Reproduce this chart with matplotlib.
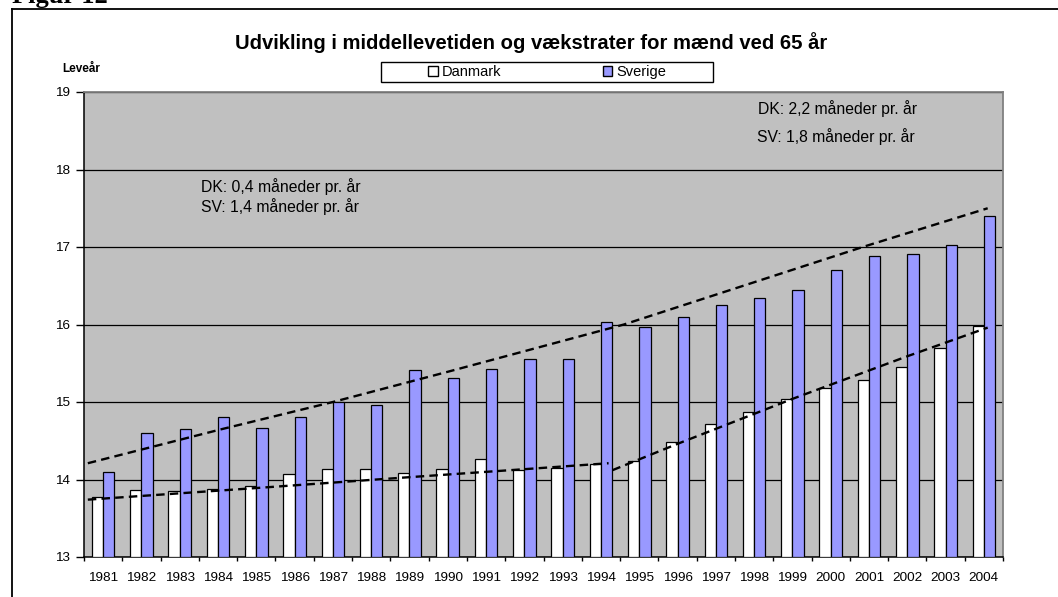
import numpy as np
from matplotlib import pyplot as plt
from matplotlib.patches import Rectangle, Patch

plt.rcParams['font.family'] = ['Liberation Sans', 'DejaVu Sans']

# data
years = list(range(1981, 2005))
danmark = [13.78, 13.86, 13.85, 13.88, 13.92, 14.07, 14.13, 14.14, 14.08, 14.13, 14.26, 14.12,
           14.15, 14.20, 14.24, 14.49, 14.71, 14.87, 15.04, 15.18, 15.28, 15.45, 15.70, 15.98]
sverige = [14.10, 14.60, 14.65, 14.81, 14.66, 14.80, 15.00, 14.96, 15.41, 15.31, 15.43, 15.56,
           15.56, 16.03, 15.97, 16.10, 16.25, 16.34, 16.45, 16.70, 16.89, 16.91, 17.02, 17.40]

# trend lines (year, value)
sv_trend_years = [1980.6, 1984.1, 1987.0, 1990.0, 1994.6, 2000.9, 2004.1]
sv_trend_vals = [14.21, 14.65, 15.00, 15.39, 16.00, 17.01, 17.50]
dk_trend1_years = [1980.6, 1985.0, 1989.0, 1992.2, 1994.2]
dk_trend1_vals = [13.74, 13.89, 14.03, 14.14, 14.21]
dk_trend2_years = [1994.3, 1996.0, 1999.0, 2002.0, 2004.1]
dk_trend2_vals = [14.12, 14.46, 15.04, 15.59, 15.96]

W, H = 1058, 597
fig = plt.figure(figsize=(W / 100, H / 100), dpi=100)
fig.patch.set_facecolor('white')

# outer frame (right and bottom edges fall outside the picture)
fig.add_artist(plt.Line2D([11.5 / W, 11.5 / W], [0, 1 - 8.5 / H], color='black', lw=1.3,
                          transform=fig.transFigure))
fig.add_artist(plt.Line2D([11.5 / W, 1], [1 - 8.5 / H, 1 - 8.5 / H], color='black', lw=1.3,
                          transform=fig.transFigure))
fig.text(12 / W, 1 - 3.5 / H, 'Figur 12', family='Liberation Serif', fontweight='bold',
         fontsize=19, va='baseline', ha='left')

left, right, top, bottom = 84, 1003, 92, 557
ax = fig.add_axes([left / W, 1 - bottom / H, (right - left) / W, (bottom - top) / H])
ax.set_facecolor('#C0C0C0')

x = np.arange(len(years))
bw = 0.295
ax.bar(x - bw / 2, np.array(danmark) - 13, bw, bottom=13, color='white', edgecolor='black',
       linewidth=0.9, zorder=3)
ax.bar(x + bw / 2, np.array(sverige) - 13, bw, bottom=13, color='#9999FF', edgecolor='black',
       linewidth=0.9, zorder=3)

ls = (0, (3.6, 2.2))
for ty, tv in [(sv_trend_years, sv_trend_vals), (dk_trend1_years, dk_trend1_vals),
               (dk_trend2_years, dk_trend2_vals)]:
    ax.plot(np.array(ty) - 1981, tv, color='black', lw=1.7, linestyle=ls, zorder=4)

ax.set_xlim(-0.5, len(years) - 0.5)
ax.set_ylim(13, 19)
ax.set_yticks(range(13, 20))
ax.yaxis.grid(True, color='black', lw=0.9, zorder=1)
ax.set_axisbelow(True)

ax.set_xticks(np.arange(len(years) + 1) - 0.5)
ax.set_xticklabels([])
ax.set_xticks(x, minor=True)
ax.set_xticklabels([str(y) for y in years], minor=True)
ax.tick_params(axis='x', which='major', length=3, width=1, direction='out')
ax.tick_params(axis='x', which='minor', length=0, pad=11, labelsize=9.7)
ax.tick_params(axis='y', length=6, width=1, direction='out', pad=4, labelsize=9.7)

for s in ['left', 'bottom']:
    ax.spines[s].set_color('black')
    ax.spines[s].set_linewidth(1.1)
for s in ['top', 'right']:
    ax.spines[s].set_color('#808080')
    ax.spines[s].set_linewidth(1.3)

ax.text(2.55, 17.71, 'DK: 0,4 måneder pr. år', fontsize=11.3, va='baseline')
ax.text(2.55, 17.45, 'SV: 1,4 måneder pr. år', fontsize=11.3, va='baseline')
ax.text(17.1, 18.72, 'DK: 2,2 måneder pr. år', fontsize=11.3, va='baseline')
ax.text(17.08, 18.35, 'SV: 1,8 måneder pr. år', fontsize=11.3, va='baseline')

fig.text(531 / W, 1 - 43 / H, 'Udvikling i middellevetiden og vækstrater for mænd ved 65 år',
         fontsize=14.6, fontweight='bold', ha='center', va='center')
fig.text(62 / W, 1 - 69 / H, 'Leveår', fontsize=8.5, fontweight='bold', ha='left', va='center')

# legend box
fig.add_artist(Rectangle((381 / W, 1 - 82 / H), (713 - 381) / W, 20 / H, transform=fig.transFigure,
                         facecolor='white', edgecolor='black', lw=1))
handles = [Patch(facecolor='white', edgecolor='black', lw=1),
           Patch(facecolor='#9999FF', edgecolor='black', lw=1)]
fig.legend(handles, ['Danmark', 'Sverige'], loc='center', bbox_to_anchor=(547 / W, 1 - 72 / H),
           ncol=2, frameon=False, fontsize=10.5, handlelength=0.65, handleheight=0.65,
           handletextpad=0.25, columnspacing=7.0, borderpad=0)

fig.savefig('out.png', dpi=100)
